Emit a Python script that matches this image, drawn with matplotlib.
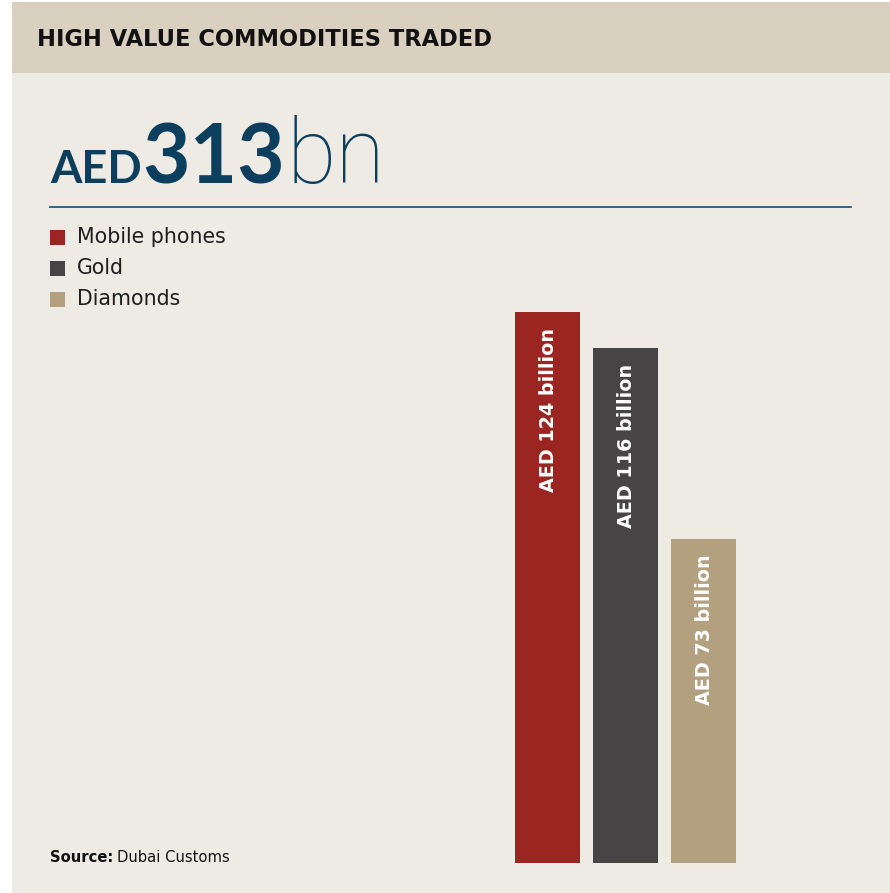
import matplotlib
matplotlib.use('Agg')
import matplotlib.pyplot as plt
from matplotlib.patches import Rectangle

# data
categories = ['Mobile phones', 'Gold', 'Diamonds']
values_bn = [124, 116, 73]
bar_labels = ['AED 124 billion', 'AED 116 billion', 'AED 73 billion']
colors = ['#9b2521', '#464445', '#b3a07f']
title = 'HIGH VALUE COMMODITIES TRADED'
total_prefix, total_value, total_unit = 'AED', '313', 'bn'
source_label, source_name = 'Source:', 'Dubai Customs'

W, H, DPI = 890, 893, 100
BODY = '#eeeae4'
HEADER = '#d9d0c0'
NAVY = '#0c3e5e'

fig = plt.figure(figsize=(W / DPI, H / DPI), dpi=DPI, facecolor='white')
renderer = fig.canvas.get_renderer()


def fx(px):
    return px / W


def fy(py):
    return 1 - py / H


def fit_width(txt, width_px, vertical=False):
    bb = txt.get_window_extent(renderer)
    cur = bb.height if vertical else bb.width
    txt.set_fontsize(txt.get_fontsize() * width_px / cur)


# panel background + header band (behind the axes)
fig.patches.append(Rectangle((fx(12), 0), 1 - fx(12), fy(2), transform=fig.transFigure,
                             facecolor=BODY, edgecolor='none', zorder=-2))
fig.patches.append(Rectangle((fx(12), fy(73)), 1 - fx(12), fy(2) - fy(73), transform=fig.transFigure,
                             facecolor=HEADER, edgecolor='none', zorder=-2))

t = fig.text(fx(37), fy(40), title, fontsize=14, fontweight='bold', color='#111111',
             family='DejaVu Sans', va='center', ha='left')
fit_width(t, 454)

# headline total: pieces laid out one after another on a common baseline
t = fig.text(fx(50), fy(183), total_prefix, fontsize=30, fontweight='bold', color=NAVY,
             family='Lato', va='baseline', ha='left')
fit_width(t, 92)
x_next = t.get_window_extent(renderer).x1 + 1
t = fig.text(x_next / W, fy(183), total_value, fontsize=59, fontweight='bold', color=NAVY,
             family='Lato', va='baseline', ha='left')
x_next = t.get_window_extent(renderer).x1 + 1
fig.text(x_next / W, fy(183), total_unit, fontsize=65, fontweight=100, color=NAVY,
         family='Roboto', va='baseline', ha='left')

fig.add_artist(plt.Line2D([fx(50), fx(851)], [fy(207), fy(207)], transform=fig.transFigure,
                          color='#1f5a7e', linewidth=1.3))

# legend
for i, (name, c) in enumerate(zip(categories, colors)):
    yc = 237 + i * 31.2
    fig.patches.append(Rectangle((fx(50), fy(yc + 7.5)), fx(15), 15 / H, transform=fig.transFigure,
                                 facecolor=c, edgecolor='none'))
    fig.text(fx(77), fy(yc), name, fontsize=14.8, color='#1e1e1e', family='DejaVu Sans',
             va='center', ha='left')

# bars
w = 65 / 78
ax = fig.add_axes([fx(515), 1 - 863 / H, 221 / W, 551 / H])
ax.set_zorder(2)
ax.set_facecolor('none')
xs = list(range(len(values_bn)))
ax.bar(xs, values_bn, width=w, color=colors, edgecolor='none')
ax.set_xlim(-w / 2, xs[-1] + w / 2)
ax.set_ylim(0, values_bn[0])
ax.axis('off')

for x, v, lab in zip(xs, values_bn, bar_labels):
    ax.annotate(lab, (x, v), xytext=(1, -11.5), textcoords='offset points',
                rotation=90, ha='center', va='top', color='white', fontsize=13.8,
                fontweight='bold', family='DejaVu Sans')

# source
t1 = fig.text(fx(50), fy(858), source_label, fontsize=10.6, fontweight='bold', color='#111111',
              family='DejaVu Sans', va='center', ha='left')
bb = t1.get_window_extent(renderer)
fig.text(fx(50) + (bb.width + 4) / W, fy(858), source_name, fontsize=10.6, color='#111111',
         family='DejaVu Sans', va='center', ha='left')

fig.savefig('out.png', dpi=DPI, facecolor='white')
